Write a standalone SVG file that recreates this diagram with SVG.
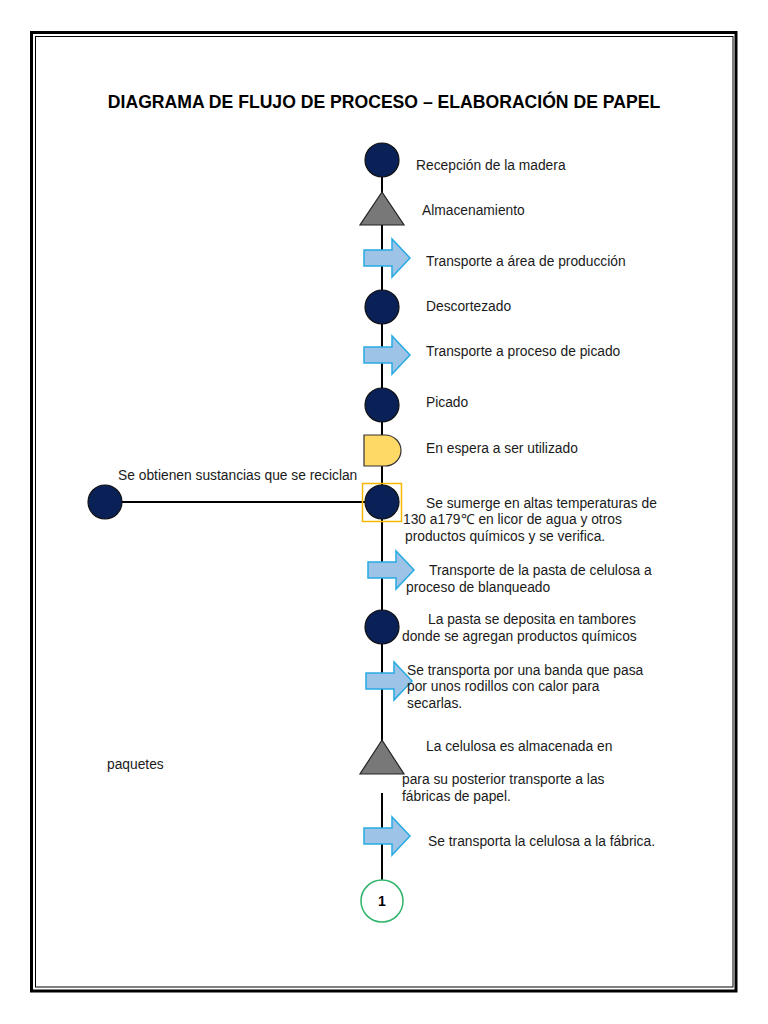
<svg xmlns="http://www.w3.org/2000/svg" width="768" height="1024" viewBox="0 0 768 1024">
<defs>
<style>
.t{font-family:"Liberation Sans",Arial,sans-serif;font-size:13.8px;fill:#1a1a1a}
.title{font-family:"Liberation Sans",Arial,sans-serif;font-size:17.6px;font-weight:bold;fill:#000}
.op{fill:#0a2158;stroke:#111;stroke-width:1.2}
.st{fill:#787878;stroke:#222;stroke-width:1.2}
.tr{fill:#9dc3e6;stroke:#29abe2;stroke-width:1.5}
.ln{stroke:#000;stroke-width:2;fill:none}
</style>
<path id="arr" d="M0,-8 H28 V-19 L46,0 L28,19 V8 H0 Z"/>
</defs>
<rect width="768" height="1024" fill="#fff"/>
<rect x="31.5" y="32.5" width="704.5" height="958.5" fill="none" stroke="#000" stroke-width="3"/>
<rect x="35.5" y="36.5" width="697.5" height="950.5" fill="none" stroke="#000" stroke-width="1"/>
<text class="title" x="384" y="108" text-anchor="middle">DIAGRAMA DE FLUJO DE PROCESO – ELABORACIÓN DE PAPEL</text>
<g id="connectors">
<line class="ln" x1="382" y1="160" x2="382" y2="774"/>
<line class="ln" x1="382" y1="793" x2="382" y2="880"/>
<line class="ln" x1="105" y1="502" x2="365" y2="502"/>
</g>
<g id="n1"><circle class="op" cx="382" cy="160" r="17"/><text class="t" x="416" y="170">Recepción de la madera</text></g>
<g id="n2"><polygon class="st" points="382,192 404,225 360,225"/><text class="t" x="422" y="215">Almacenamiento</text></g>
<g id="n3"><use href="#arr" class="tr" x="364" y="258"/><text class="t" x="426" y="266">Transporte a área de producción</text></g>
<g id="n4"><circle class="op" cx="382" cy="307" r="17"/><text class="t" x="426" y="311">Descortezado</text></g>
<g id="n5"><use href="#arr" class="tr" x="364" y="355"/><text class="t" x="426" y="356">Transporte a proceso de picado</text></g>
<g id="n6"><circle class="op" cx="382" cy="405" r="17"/><text class="t" x="426" y="407">Picado</text></g>
<g id="n7"><path d="M364,435 H385 A16,15.5 0 0 1 385,466 H364 Z" fill="#ffd966" stroke="#333" stroke-width="1.2"/><text class="t" x="426" y="453">En espera a ser utilizado</text></g>
<g id="n8"><rect x="362.5" y="483.5" width="39" height="38" fill="none" stroke="#f5b800" stroke-width="1.5"/><circle class="op" cx="382" cy="502" r="17"/>
<text class="t" x="426" y="508">Se sumerge en altas temperaturas de</text>
<text class="t" x="403" y="524">130 a179℃ en licor de agua y otros</text>
<text class="t" x="405" y="541">productos químicos y se verifica.</text></g>
<g id="n9"><circle class="op" cx="105" cy="502" r="17"/><text class="t" x="118" y="480">Se obtienen sustancias que se reciclan</text></g>
<g id="n10"><use href="#arr" class="tr" x="368" y="570"/>
<text class="t" x="429" y="575">Transporte de la pasta de celulosa a</text>
<text class="t" x="406" y="592">proceso de blanqueado</text></g>
<g id="n11"><circle class="op" cx="382" cy="627" r="17"/>
<text class="t" x="428" y="624">La pasta se deposita en tambores</text>
<text class="t" x="402" y="641">donde se agregan productos químicos</text></g>
<g id="n12"><use href="#arr" class="tr" x="366" y="681"/>
<text class="t" x="407" y="675">Se transporta por una banda que pasa</text>
<text class="t" x="407" y="691">por unos rodillos con calor para</text>
<text class="t" x="407" y="708">secarlas.</text></g>
<g id="n13"><polygon class="st" points="382,740 404,774 360,774"/>
<text class="t" x="426" y="751">La celulosa es almacenada en</text>
<text class="t" x="107" y="769">paquetes</text>
<text class="t" x="402" y="784">para su posterior transporte a las</text>
<text class="t" x="402" y="801">fábricas de papel.</text></g>
<g id="n14"><use href="#arr" class="tr" x="364" y="836"/><text class="t" x="428" y="846">Se transporta la celulosa a la fábrica.</text></g>
<g id="n15"><circle cx="382" cy="901" r="21" fill="#fff" stroke="#2db56a" stroke-width="1.5"/><text x="382" y="906" text-anchor="middle" font-family="Liberation Sans,Arial,sans-serif" font-size="14" font-weight="bold">1</text></g>
</svg>
